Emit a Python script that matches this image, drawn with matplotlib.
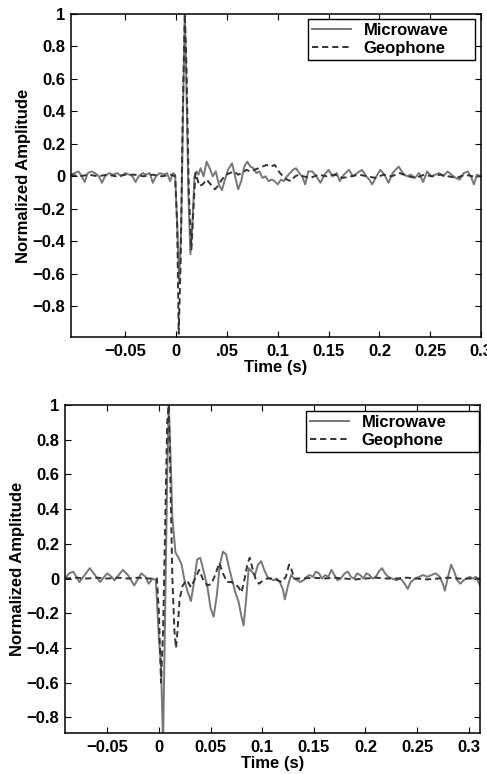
import matplotlib
matplotlib.use("Agg")
import matplotlib.pyplot as plt

plt.rcParams["font.family"] = ["Liberation Sans", "DejaVu Sans"]
plt.rcParams["font.weight"] = "bold"
plt.rcParams["font.size"] = 12

# ---- top panel ----
top_mw_t = [-0.104, -0.100, -0.096, -0.093, -0.090, -0.087, -0.083, -0.080, -0.076, -0.073,
            -0.070, -0.066, -0.062, -0.058, -0.054, -0.050, -0.046, -0.043, -0.040, -0.037,
            -0.033, -0.030, -0.026, -0.023, -0.020, -0.016, -0.012, -0.009, -0.006, -0.003,
            -0.001, 0.001, 0.003, 0.005, 0.007, 0.0085, 0.010, 0.012, 0.014, 0.016,
            0.018, 0.020, 0.022, 0.024, 0.027, 0.030, 0.033, 0.036, 0.039, 0.042,
            0.045, 0.048, 0.051, 0.055, 0.058, 0.061, 0.064, 0.067, 0.070, 0.073,
            0.076, 0.079, 0.082, 0.085, 0.088, 0.091, 0.094, 0.097, 0.100, 0.103,
            0.106, 0.109, 0.112, 0.115, 0.118, 0.121, 0.124, 0.127, 0.130, 0.134,
            0.138, 0.142, 0.146, 0.150, 0.154, 0.158, 0.161, 0.165, 0.170, 0.174,
            0.178, 0.183, 0.187, 0.190, 0.193, 0.197, 0.201, 0.205, 0.209, 0.213,
            0.219, 0.223, 0.227, 0.231, 0.235, 0.239, 0.243, 0.247, 0.251, 0.255,
            0.259, 0.263, 0.267, 0.271, 0.275, 0.279, 0.283, 0.287, 0.290, 0.293,
            0.296, 0.300]
top_mw_v = [0.01, 0.02, 0.03, 0.0, -0.035, 0.02, 0.03, 0.02, 0.0, -0.04,
            0.0, 0.02, 0.01, 0.02, 0.0, 0.02, 0.01, 0.0, -0.035, 0.0,
            0.02, 0.01, 0.02, -0.04, 0.0, 0.02, 0.01, 0.02, -0.03, 0.02,
            0.01, -0.3, -0.66, -0.3, 0.5, 1.0, 0.6, -0.1, -0.48, -0.3,
            0.0, 0.03, 0.01, 0.05, 0.0, 0.09, 0.05, 0.0, 0.03, -0.05,
            -0.085, -0.02, 0.04, 0.08, 0.0, -0.08, -0.03, 0.06, 0.09, 0.06,
            0.05, 0.02, 0.03, -0.01, 0.0, -0.03, -0.02, -0.03, -0.05, -0.02,
            -0.03, 0.0, 0.02, 0.04, 0.05, 0.02, 0.0, -0.05, 0.03, 0.03,
            0.0, -0.04, 0.01, 0.04, 0.0, 0.02, -0.03, 0.01, 0.04, 0.0,
            0.02, 0.04, 0.0, -0.02, -0.05, 0.0, 0.04, 0.01, -0.04, 0.02,
            0.06, 0.02, 0.0, 0.01, -0.01, 0.02, -0.035, 0.03, 0.0, 0.01,
            0.02, 0.0, 0.03, 0.01, -0.01, -0.02, 0.02, 0.03, 0.0, -0.05,
            0.01, 0.0]

top_geo_t = [-0.104, -0.095, -0.086, -0.077, -0.068, -0.059, -0.050, -0.041, -0.032, -0.023,
             -0.014, -0.005, -0.001, 0.001, 0.0025, 0.0045, 0.0065, 0.0085, 0.010, 0.0125,
             0.015, 0.017, 0.019, 0.021, 0.023, 0.026, 0.030, 0.034, 0.038, 0.041,
             0.045, 0.049, 0.053, 0.057, 0.061, 0.065, 0.069, 0.073, 0.077, 0.081,
             0.085, 0.089, 0.093, 0.097, 0.101, 0.105, 0.109, 0.113, 0.117, 0.121,
             0.125, 0.132, 0.140, 0.148, 0.156, 0.164, 0.172, 0.180, 0.188, 0.196,
             0.204, 0.212, 0.220, 0.228, 0.236, 0.244, 0.252, 0.260, 0.268, 0.276,
             0.284, 0.292, 0.300]
top_geo_v = [0.01, 0.0, 0.01, 0.0, 0.01, 0.0, 0.01, 0.01, 0.0, 0.01,
             0.0, 0.01, 0.0, -0.3, -0.97, -0.5, 0.4, 1.0, 0.7, -0.1,
             -0.45, -0.2, 0.02, -0.02, -0.06, -0.05, -0.02, -0.05, -0.08, -0.06,
             -0.02, 0.01, 0.02, 0.03, 0.01, 0.02, 0.04, 0.03, 0.04, 0.05,
             0.06, 0.07, 0.06, 0.07, 0.03, 0.0, -0.02, -0.03, 0.0, 0.01,
             0.0, -0.01, 0.01, 0.0, 0.01, -0.01, 0.0, 0.01, 0.0, -0.01,
             0.01, 0.0, 0.02, 0.0, -0.01, 0.01, 0.0, 0.01, 0.0, -0.01,
             0.01, 0.0, 0.0]

# ---- bottom panel ----
bot_mw_t = [-0.091, -0.087, -0.083, -0.080, -0.077, -0.072, -0.067, -0.062, -0.057, -0.053,
            -0.050, -0.046, -0.043, -0.039, -0.035, -0.030, -0.024, -0.020, -0.017, -0.013,
            -0.010, -0.006, -0.003, 0.000, 0.002, 0.004, 0.006, 0.008, 0.0095, 0.011,
            0.013, 0.016, 0.019, 0.022, 0.025, 0.028, 0.031, 0.034, 0.037, 0.040,
            0.043, 0.047, 0.050, 0.053, 0.056, 0.059, 0.062, 0.065, 0.068, 0.071,
            0.074, 0.077, 0.080, 0.082, 0.084, 0.087, 0.090, 0.093, 0.096, 0.099,
            0.102, 0.105, 0.108, 0.111, 0.114, 0.117, 0.120, 0.122, 0.125, 0.128,
            0.131, 0.134, 0.137, 0.140, 0.143, 0.146, 0.149, 0.152, 0.155, 0.158,
            0.161, 0.164, 0.167, 0.170, 0.173, 0.176, 0.180, 0.183, 0.186, 0.189,
            0.192, 0.195, 0.198, 0.201, 0.204, 0.207, 0.210, 0.213, 0.216, 0.219,
            0.222, 0.226, 0.230, 0.234, 0.238, 0.241, 0.244, 0.248, 0.252, 0.256,
            0.260, 0.264, 0.268, 0.272, 0.275, 0.277, 0.280, 0.283, 0.286, 0.289,
            0.292, 0.295, 0.298, 0.301, 0.304, 0.307, 0.311]
bot_mw_v = [0.0, 0.03, 0.04, 0.01, -0.02, 0.02, 0.06, 0.02, -0.02, 0.01,
            0.03, 0.01, -0.01, 0.02, 0.05, 0.02, -0.04, 0.0, 0.03, 0.01,
            -0.03, 0.0, -0.01, -0.35, -0.5, -0.95, -0.2, 0.6, 1.0, 0.75,
            0.35, 0.15, 0.12, 0.08, -0.02, -0.08, -0.13, -0.02, 0.11, 0.12,
            0.05, -0.05, -0.17, -0.22, -0.1, 0.08, 0.155, 0.14, 0.06, -0.01,
            -0.08, -0.13, -0.22, -0.27, -0.15, 0.06, 0.04, 0.02, 0.08, 0.1,
            0.05, 0.01, 0.0, -0.01, 0.0, -0.02, -0.06, -0.12, -0.04, 0.02,
            0.0, -0.01, -0.02, -0.01, 0.01, 0.02, 0.01, 0.04, 0.03, 0.0,
            0.02, 0.01, 0.05, 0.02, -0.01, 0.0, 0.03, 0.04, 0.01, 0.0,
            0.03, 0.02, 0.0, 0.03, 0.02, 0.0, 0.01, 0.04, 0.06, 0.03,
            0.01, 0.0, -0.01, 0.0, -0.03, -0.06, -0.02, 0.0, 0.01, 0.02,
            0.01, 0.02, 0.03, 0.01, -0.03, -0.07, 0.01, 0.08, 0.04, -0.01,
            -0.03, -0.01, 0.0, 0.01, 0.0, 0.01, -0.04]

bot_geo_t = [-0.091, -0.080, -0.070, -0.060, -0.050, -0.040, -0.030, -0.020, -0.010, -0.002,
             0.000, 0.002, 0.004, 0.006, 0.008, 0.0095, 0.011, 0.013, 0.015, 0.0165,
             0.018, 0.020, 0.023, 0.027, 0.031, 0.035, 0.039, 0.043, 0.047, 0.051,
             0.055, 0.0585, 0.062, 0.066, 0.070, 0.0735, 0.077, 0.080, 0.083, 0.086,
             0.088, 0.091, 0.094, 0.097, 0.101, 0.105, 0.110, 0.115, 0.119, 0.123,
             0.126, 0.128, 0.131, 0.140, 0.150, 0.160, 0.170, 0.180, 0.190, 0.200,
             0.210, 0.220, 0.230, 0.240, 0.250, 0.260, 0.270, 0.280, 0.290, 0.300,
             0.311]
bot_geo_v = [0.0, 0.005, 0.0, 0.005, 0.0, 0.005, 0.0, 0.005, 0.0, 0.0,
             -0.2, -0.6, -0.3, 0.3, 0.9, 1.0, 0.6, 0.0, -0.3, -0.4,
             -0.3, -0.12, -0.04, -0.01, -0.05, 0.0, 0.05, -0.01, -0.04, -0.03,
             0.03, 0.09, 0.03, -0.02, -0.02, -0.03, -0.05, -0.08, 0.0, 0.09,
             0.12, 0.05, -0.01, -0.03, -0.01, 0.0, 0.0, -0.01, -0.02, 0.01,
             0.08, 0.06, 0.0, 0.0, 0.005, 0.0, 0.005, 0.0, -0.005, 0.0,
             0.005, 0.0, 0.0, 0.005, 0.0, -0.005, 0.0, 0.005, 0.0, 0.0,
             0.0]

top_xticks = [-0.05, 0, 0.05, 0.1, 0.15, 0.2, 0.25, 0.3]
top_xlabels = ["\u22120.05", "0", ".05", "0.1", "0.15", "0.2", "0.25", "0.3"]
bot_xlabels = ["\u22120.05", "0", "0.05", "0.1", "0.15", "0.2", "0.25", "0.3"]
yticks = [-0.8, -0.6, -0.4, -0.2, 0, 0.2, 0.4, 0.6, 0.8, 1]
ylabels = ["\u22120.8", "\u22120.6", "\u22120.4", "\u22120.2", "0", "0.2", "0.4", "0.6", "0.8", "1"]

MW_COLOR = "#777777"
GEO_COLOR = "#333333"

fig = plt.figure(figsize=(4.87, 7.74), dpi=100)
ax1 = fig.add_axes([71 / 487, 1 - 337 / 774, 410 / 487, 323 / 774])
ax2 = fig.add_axes([65 / 487, 1 - 733 / 774, 415 / 487, 328 / 774])

panels = [
    (ax1, top_mw_t, top_mw_v, top_geo_t, top_geo_v, (-0.1035, 0.3), (-0.99, 1.0), top_xlabels,
     (308, 19, 475, 62)),
    (ax2, bot_mw_t, bot_mw_v, bot_geo_t, bot_geo_v, (-0.091, 0.311), (-0.89, 1.0), bot_xlabels,
     (306, 411, 479, 453)),
]

for ax, mt, mv, gt, gv, xl, yl, xlabs, box in panels:
    ax.plot(mt, mv, color=MW_COLOR, lw=1.4, label="Microwave")
    ax.plot(gt, gv, color=GEO_COLOR, lw=1.4, ls=(0, (3.2, 2.0)), label="Geophone")
    ax.set_xlim(*xl)
    ax.set_ylim(*yl)
    ax.set_xticks(top_xticks)
    ax.set_xticklabels(xlabs)
    ax.set_yticks(yticks)
    ax.set_yticklabels(ylabels)
    ax.tick_params(direction="in", top=True, right=True, length=4, width=0.8,
                   labelsize=12, pad=4)
    ax.tick_params(axis="x", pad=5)
    for s in ax.spines.values():
        s.set_linewidth(1.1)
    ax.set_xlabel("Time (s)", fontsize=12, fontweight="bold", labelpad=1)
    ax.set_ylabel("Normalized Amplitude", fontsize=12, fontweight="bold", labelpad=1)
    x0, y0, x1, y1 = box
    leg = ax.legend(loc="upper left",
                    bbox_to_anchor=(x0 / 487, 1 - y1 / 774, (x1 - x0) / 487, (y1 - y0) / 774),
                    bbox_transform=fig.transFigure, mode="expand", fancybox=False,
                    framealpha=1, edgecolor="black", fontsize=12, handlelength=2.3,
                    borderpad=0.25, labelspacing=0.15, handletextpad=0.8, borderaxespad=0)
    leg.get_frame().set_linewidth(1.0)

fig.savefig("out.png", dpi=100)
